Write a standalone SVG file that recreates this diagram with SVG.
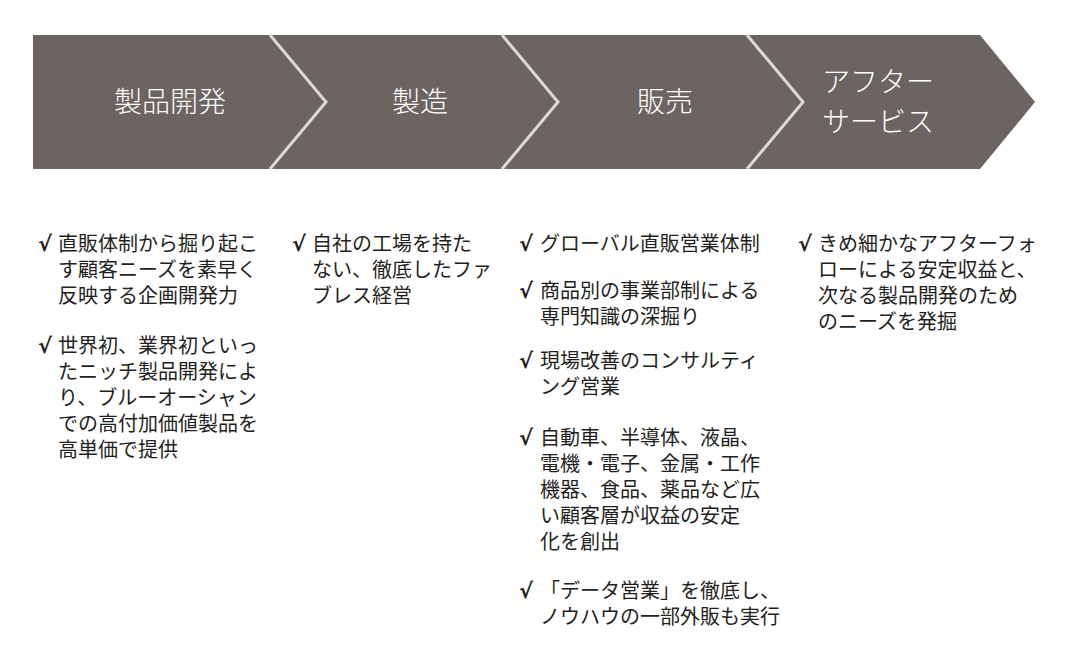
<svg xmlns="http://www.w3.org/2000/svg" width="1080" height="659" viewBox="0 0 1080 659">
<style>
.t{font-family:"Noto Sans CJK JP",sans-serif;font-size:28px;fill:#fff;font-weight:300}
.b{font-family:"Noto Sans CJK JP",sans-serif;font-size:20px;fill:#231f20}
.c{font-family:"DejaVu Sans",sans-serif;font-size:21px;fill:#231f20;font-weight:bold}
.sep{fill:none;stroke:#d9d9d9;stroke-width:3}
</style>
<rect width="1080" height="659" fill="#fff"/>
<g id="banner">
<polygon points="33,35 980,35 1035,102 980,169 33,169" fill="#6b6461"/>
</g>
<g id="connectors">
<polyline class="sep" points="270,35 326,102 270,169"/>
<polyline class="sep" points="502,35 558,102 502,169"/>
<polyline class="sep" points="747,35 803,102 747,169"/>
</g>
<g id="stage1"><text class="t" x="170" y="112" text-anchor="middle">製品開発</text></g>
<g id="stage2"><text class="t" x="420" y="112" text-anchor="middle">製造</text></g>
<g id="stage3"><text class="t" x="665" y="112" text-anchor="middle">販売</text></g>
<g id="stage4"><text class="t" x="822" y="92">アフター</text><text class="t" x="822" y="132">サービス</text></g>
<g id="col1">
<text class="c" x="38" y="251">√</text>
<text class="b" x="58" y="251">直販体制から掘り起こ</text>
<text class="b" x="58" y="277">す顧客ニーズを素早く</text>
<text class="b" x="58" y="303">反映する企画開発力</text>
<text class="c" x="38" y="353">√</text>
<text class="b" x="58" y="353">世界初、業界初といっ</text>
<text class="b" x="58" y="379">たニッチ製品開発によ</text>
<text class="b" x="58" y="405">り、ブルーオーシャン</text>
<text class="b" x="58" y="431">での高付加価値製品を</text>
<text class="b" x="58" y="457">高単価で提供</text>
</g>
<g id="col2">
<text class="c" x="292" y="251">√</text>
<text class="b" x="312" y="251">自社の工場を持た</text>
<text class="b" x="312" y="277">ない、徹底したファ</text>
<text class="b" x="312" y="303">ブレス経営</text>
</g>
<g id="col3">
<text class="c" x="519" y="251">√</text>
<text class="b" x="540" y="251">グローバル直販営業体制</text>
<text class="c" x="519" y="298">√</text>
<text class="b" x="540" y="298">商品別の事業部制による</text>
<text class="b" x="540" y="324">専門知識の深掘り</text>
<text class="c" x="519" y="368">√</text>
<text class="b" x="540" y="368">現場改善のコンサルティ</text>
<text class="b" x="540" y="394">ング営業</text>
<text class="c" x="519" y="445">√</text>
<text class="b" x="540" y="445">自動車、半導体、液晶、</text>
<text class="b" x="540" y="471">電機・電子、金属・工作</text>
<text class="b" x="540" y="497">機器、食品、薬品など広</text>
<text class="b" x="540" y="523">い顧客層が収益の安定</text>
<text class="b" x="540" y="549">化を創出</text>
<text class="c" x="519" y="598">√</text>
<text class="b" x="540" y="598">「データ営業」を徹底し、</text>
<text class="b" x="540" y="624">ノウハウの一部外販も実行</text>
</g>
<g id="col4">
<text class="c" x="798" y="251">√</text>
<text class="b" x="818" y="251">きめ細かなアフターフォ</text>
<text class="b" x="818" y="277">ローによる安定収益と、</text>
<text class="b" x="818" y="303">次なる製品開発のため</text>
<text class="b" x="818" y="329">のニーズを発掘</text>
</g>
</svg>
